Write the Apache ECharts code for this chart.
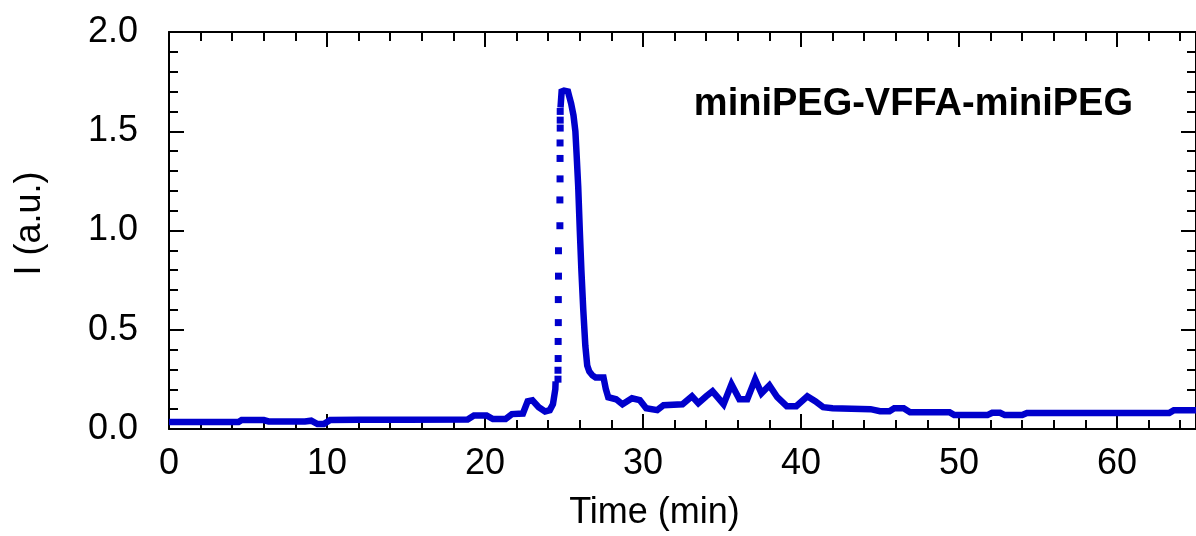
<!DOCTYPE html>
<html>
<head>
<meta charset="utf-8">
<script src="https://cdn.jsdelivr.net/npm/echarts@6/dist/echarts.min.js"></script>
<style>
  html, body { margin: 0; padding: 0; background: #fff; }
  #chart { width: 1196px; height: 536px; }
</style>
</head>
<body>
<div id="chart"></div>
<script>
// trace (time in min, intensity in a.u.)
const traceTime = [
  0, 2, 4.4, 4.6, 6.0, 6.3, 8.6, 9.0, 9.4, 9.8, 10.2, 12, 15, 18.9, 19.3, 20.1, 20.5, 21.3, 21.7, 22.4,
  22.7, 23.0, 23.4, 23.8, 24.1, 24.3, 24.45, 24.47,
  24.78, 24.85, 25.0, 25.25, 25.35, 25.45, 25.6, 25.72, 25.8, 25.9, 26.0, 26.1, 26.22, 26.35, 26.47, 26.6,
  26.8, 27.0, 27.5, 27.65, 27.8, 28.3, 28.7, 29.3, 29.8, 30.2, 30.9, 31.3, 32.5, 33.1, 33.5, 34.0, 34.4,
  35.1, 35.6, 36.1, 36.6, 37.1, 37.5, 38.0, 38.5, 39.1, 39.7, 40.4, 40.9, 41.4, 42, 44.4, 45.0, 45.6,
  45.9, 46.5, 46.9, 49.4, 49.7, 51.8, 52.1, 52.6, 52.9, 54.0, 54.3, 63.3, 63.6, 65
];
const traceValue = [
  0.035, 0.035, 0.035, 0.045, 0.045, 0.038, 0.038, 0.042, 0.025, 0.025, 0.045, 0.047, 0.047, 0.048, 0.068, 0.068, 0.05, 0.05, 0.075, 0.078,
  0.14, 0.145, 0.11, 0.088, 0.095, 0.125, 0.2, 0.24,
  1.62, 1.70, 1.705, 1.70, 1.67, 1.64, 1.58, 1.50, 1.38, 1.22, 1.0, 0.8, 0.6, 0.42, 0.32, 0.29,
  0.27, 0.26, 0.26, 0.2, 0.16, 0.15, 0.125, 0.155, 0.145, 0.105, 0.095, 0.12, 0.125, 0.165, 0.13, 0.165, 0.19,
  0.125, 0.225, 0.15, 0.15, 0.25, 0.18, 0.22, 0.16, 0.115, 0.115, 0.165, 0.14, 0.11, 0.105, 0.1, 0.09, 0.09,
  0.105, 0.105, 0.085, 0.085, 0.07, 0.07, 0.082, 0.082, 0.07, 0.07, 0.08, 0.08, 0.095, 0.095
];
// sparse samples on the steep rising edge (shown as separate dots)
const riseTime = [24.62, 24.62, 24.63, 24.63, 24.64, 24.64, 24.65, 24.65, 24.74, 24.74, 24.75, 24.75, 24.75, 24.76, 24.76, 24.76];
const riseValue = [0.251, 0.296, 0.355, 0.441, 0.536, 0.652, 0.770, 0.898, 1.024, 1.154, 1.260, 1.363, 1.441, 1.516, 1.556, 1.600];

const xTicks = [0, 10, 20, 30, 40, 50, 60];
const yTicks = [0, 0.5, 1.0, 1.5, 2.0];

const FONT = "'Liberation Sans', Arial, sans-serif";
const BLUE = '#0000cc';

let chart = echarts.init(document.getElementById('chart'));

let traceData = traceTime.map((t, i) => [t, traceValue[i]]);
// gap between the foot of the rise and the peak; the dots cover that part
traceData.splice(28, 0, [24.6, null]);

let riseData = riseTime.map((t, i) => [t, riseValue[i]]);

function xAxisCfg(pos, showLabels) {
  return {
    type: 'value',
    position: pos,
    min: 0,
    max: 65,
    interval: 10,
    name: showLabels ? 'Time (min)' : '',
    nameLocation: 'middle',
    nameGap: 66,
    nameTextStyle: { fontFamily: FONT, fontSize: 36, color: '#000', padding: [0, 56, 0, 0] },
    axisLine: { show: true, onZero: false, lineStyle: { color: '#000', width: 2 } },
    axisTick: { show: true, inside: true, length: 15, lineStyle: { color: '#000', width: 2 } },
    minorTick: { show: true, splitNumber: 5, length: 9, lineStyle: { color: '#000', width: 2 } },
    axisLabel: {
      show: showLabels, fontFamily: FONT, fontSize: 36, color: '#000', margin: 17,
      showMaxLabel: false,
      formatter: v => xTicks.includes(v) ? String(v) : ''
    },
    splitLine: { show: false }
  };
}

function yAxisCfg(pos, showLabels) {
  return {
    type: 'value',
    position: pos,
    min: 0,
    max: 2.0,
    interval: 0.5,
    name: showLabels ? 'I (a.u.)' : '',
    nameLocation: 'middle',
    nameGap: 121,
    nameTextStyle: { fontFamily: FONT, fontSize: 36, color: '#000', padding: [0, 0, 0, 14] },
    axisLine: { show: true, onZero: false, lineStyle: { color: '#000', width: 2 } },
    axisTick: { show: true, inside: true, length: 15, lineStyle: { color: '#000', width: 2 } },
    minorTick: { show: true, splitNumber: 5, length: 9, lineStyle: { color: '#000', width: 2 } },
    axisLabel: {
      show: showLabels, fontFamily: FONT, fontSize: 36, color: '#000', margin: 31,
      formatter: v => yTicks.some(y => Math.abs(y - v) < 1e-9) ? v.toFixed(1) : ''
    },
    splitLine: { show: false }
  };
}

let option = {
  backgroundColor: '#fff',
  animation: false,
  title: {
    text: 'miniPEG-VFFA-miniPEG',
    right: 58,
    top: 81,
    textStyle: { fontFamily: FONT, fontSize: 38, fontWeight: 'bold', color: '#000' }
  },
  grid: { left: 169, right: 0, top: 32, bottom: 106 },
  xAxis: [xAxisCfg('bottom', true), xAxisCfg('top', false)],
  yAxis: [yAxisCfg('left', true), yAxisCfg('right', false)],
  series: [
    {
      name: 'trace',
      type: 'line',
      data: traceData,
      connectNulls: false,
      showSymbol: false,
      lineStyle: { color: BLUE, width: 6.5, join: 'miter' },
      itemStyle: { color: BLUE }
    },
    {
      name: 'rise',
      type: 'scatter',
      data: riseData,
      symbol: 'rect',
      symbolSize: 7,
      itemStyle: { color: BLUE, opacity: 1 }
    }
  ]
};

option && chart.setOption(option);
</script>
</body>
</html>
